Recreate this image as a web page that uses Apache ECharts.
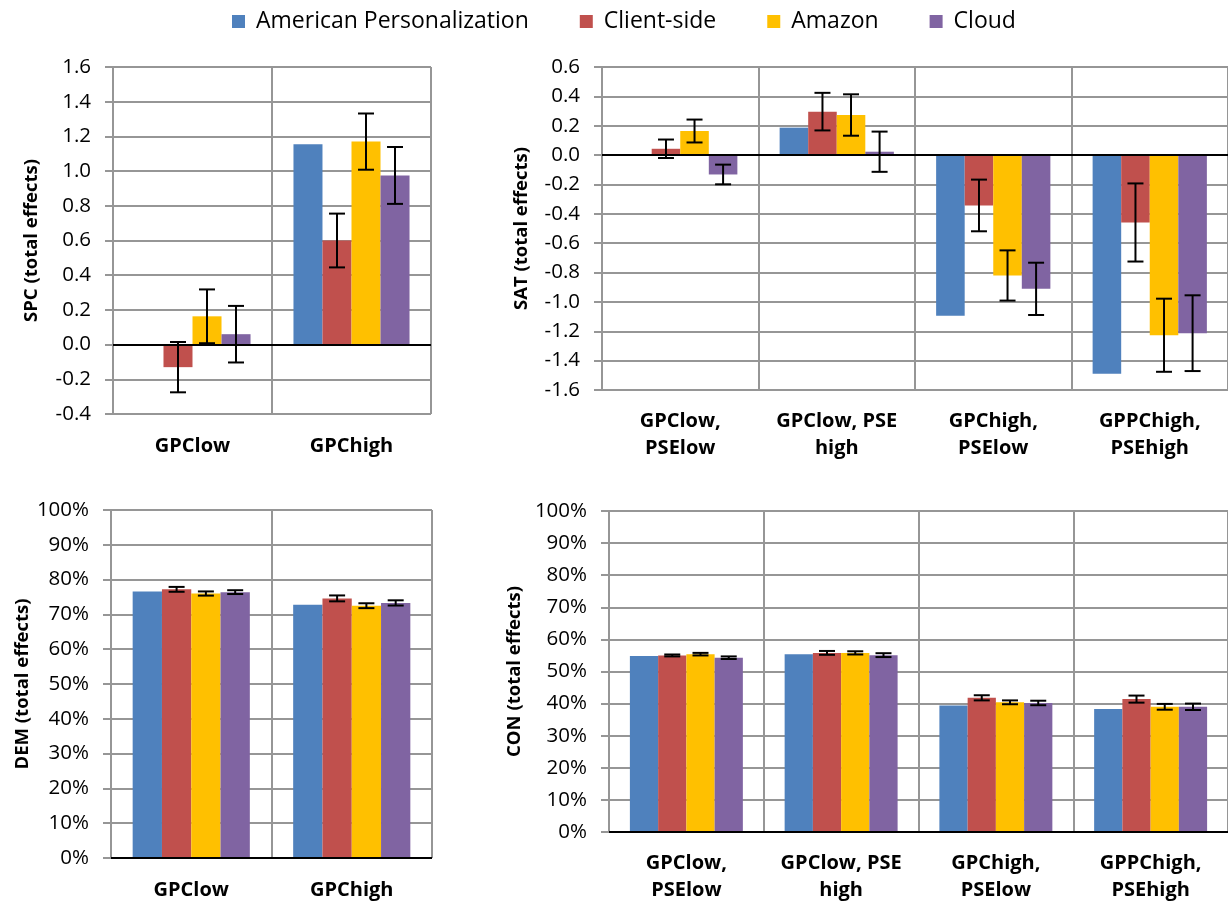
<!DOCTYPE html>
<html>
<head>
<meta charset="utf-8">
<script src="https://cdn.jsdelivr.net/npm/echarts@6/dist/echarts.min.js"></script>
<style>
html,body{margin:0;padding:0;background:#fff;}
#c{width:1228px;height:904px;}
</style>
</head>
<body>
<div id="c"></div>
<script>
// ---------- data ----------
const seriesNames = ['American Personalization', 'Client-side', 'Amazon', 'Cloud'];

// SPC panel (top-left)
const spcCategories = ['GPClow', 'GPChigh'];
const spcAmerican = [0, 1.155];
const spcClient = [-0.13, 0.60];
const spcAmazon = [0.163, 1.17];
const spcCloud = [0.06, 0.975];
const spcErrClient = [0.145, 0.155];
const spcErrAmazon = [0.155, 0.162];
const spcErrCloud = [0.163, 0.164];

// SAT panel (top-right)
const satCategories = ['GPClow,\nPSElow', 'GPClow, PSE\nhigh', 'GPChigh,\nPSElow', 'GPPChigh,\nPSEhigh'];
const satAmerican = [0, 0.187, -1.095, -1.49];
const satClient = [0.043, 0.296, -0.343, -0.459];
const satAmazon = [0.164, 0.273, -0.82, -1.227];
const satCloud = [-0.132, 0.023, -0.911, -1.213];
const satErrClient = [0.063, 0.128, 0.176, 0.266];
const satErrAmazon = [0.078, 0.141, 0.171, 0.249];
const satErrCloud = [0.067, 0.137, 0.178, 0.258];

// DEM panel (bottom-left), percent
const demCategories = ['GPClow', 'GPChigh'];
const demAmerican = [76.6, 72.8];
const demClient = [77.2, 74.6];
const demAmazon = [76.0, 72.5];
const demCloud = [76.4, 73.3];
const demErrClient = [0.7, 0.85];
const demErrAmazon = [0.6, 0.7];
const demErrCloud = [0.55, 0.75];

// CON panel (bottom-right), percent
const conCategories = ['GPClow,\nPSElow', 'GPClow, PSE\nhigh', 'GPChigh,\nPSElow', 'GPPChigh,\nPSEhigh'];
const conAmerican = [54.8, 55.4, 39.4, 38.3];
const conClient = [55.0, 55.8, 41.8, 41.4];
const conAmazon = [55.4, 55.8, 40.4, 39.0];
const conCloud = [54.3, 55.1, 40.2, 39.0];
const conErrClient = [0.3, 0.6, 0.8, 1.1];
const conErrAmazon = [0.4, 0.5, 0.6, 0.9];
const conErrCloud = [0.4, 0.6, 0.7, 1.0];

// ---------- style ----------
const COLORS = ['#4F81BD', '#C0504D', '#FFC000', '#8064A2'];
const FONT = 'Open Sans';
const GRID_COLOR = '#969696';
const GAP = 0.27;

const panels = [
  { cats: spcCategories, vals: [spcAmerican, spcClient, spcAmazon, spcCloud],
    errs: [null, spcErrClient, spcErrAmazon, spcErrCloud],
    grid: { left: 113, width: 318, top: 67, height: 347 },
    y: { min: -0.4, max: 1.6, interval: 0.2, name: 'SPC (total effects)', nameGap: 72, pct: false },
    labelMargin: 19 },
  { cats: satCategories, vals: [satAmerican, satClient, satAmazon, satCloud],
    errs: [null, satErrClient, satErrAmazon, satErrCloud],
    grid: { left: 602, width: 632, top: 67, height: 323 },
    y: { min: -1.6, max: 0.6, interval: 0.2, name: 'SAT (total effects)', nameGap: 71, pct: false },
    labelMargin: 18 },
  { cats: demCategories, vals: [demAmerican, demClient, demAmazon, demCloud],
    errs: [null, demErrClient, demErrAmazon, demErrCloud],
    grid: { left: 111, width: 321, top: 510, height: 348 },
    y: { min: 0, max: 100, interval: 10, name: 'DEM (total effects)', nameGap: 79, pct: true },
    labelMargin: 19 },
  { cats: conCategories, vals: [conAmerican, conClient, conAmazon, conCloud],
    errs: [null, conErrClient, conErrAmazon, conErrCloud],
    grid: { left: 609, width: 625, top: 511, height: 322 },
    y: { min: 0, max: 100, interval: 10, name: 'CON (total effects)', nameGap: 79, pct: true },
    labelMargin: 18 }
];

const grids = [], xAxes = [], yAxes = [], series = [];

panels.forEach((p, gi) => {
  grids.push(Object.assign({ containLabel: false }, p.grid));
  xAxes.push({
    type: 'category', gridIndex: gi, data: p.cats,
    axisLine: { show: false, onZero: false },
    axisTick: { show: false },
    splitLine: { show: true, lineStyle: { color: GRID_COLOR, width: 2 } },
    axisLabel: { fontFamily: FONT, fontWeight: 'bold', fontSize: 20, color: '#000',
                 margin: p.labelMargin, lineHeight: 27, interval: 0 }
  });
  yAxes.push({
    type: 'value', gridIndex: gi, min: p.y.min, max: p.y.max, interval: p.y.interval,
    name: p.y.name, nameLocation: 'middle', nameGap: p.y.nameGap, nameRotate: 90,
    nameTextStyle: { fontFamily: FONT, fontWeight: 'bold', fontSize: 18.5, color: '#000' },
    axisLine: { show: true, lineStyle: { color: GRID_COLOR, width: 2 } },
    axisTick: { show: true, length: 8, lineStyle: { color: GRID_COLOR, width: 2 } },
    splitLine: { show: true, lineStyle: { color: GRID_COLOR, width: 2 } },
    axisLabel: {
      fontFamily: FONT, fontSize: 20.5, color: '#000', margin: 22,
      formatter: p.y.pct ? (v => Math.round(v) + '%') : (v => (Math.abs(v) < 1e-9 ? 0 : v).toFixed(1))
    }
  });
  p.vals.forEach((arr, k) => {
    const s = {
      type: 'bar', name: seriesNames[k], xAxisIndex: gi, yAxisIndex: gi,
      data: arr, barGap: '0%', barCategoryGap: (GAP * 100) + '%',
      itemStyle: { color: COLORS[k] }, silent: true, z: 2
    };
    if (k === 0) {
      s.markLine = {
        silent: true, symbol: ['none', 'none'], label: { show: false },
        lineStyle: { color: '#000', width: 2, type: 'solid' },
        data: [{ yAxis: 0 }], z: 3
      };
    }
    series.push(s);
  });
  p.errs.forEach((err, k) => {
    if (!err) return;
    const vals = p.vals[k];
    series.push({
      type: 'custom', xAxisIndex: gi, yAxisIndex: gi, silent: true, z: 5,
      encode: { x: 0, y: 1 },
      data: vals.map((v, i) => [i, v, err[i]]),
      renderItem: (params, api) => {
        const ci = api.value(0), v = api.value(1), e = api.value(2);
        const c = api.coord([ci, v]);
        const catW = api.size([1, 0])[0];
        const barW = catW * (1 - GAP) / 4;
        const x = c[0] + (k - 1.5) * barW;
        const yt = api.coord([ci, v + e])[1];
        const yb = api.coord([ci, v - e])[1];
        const hw = 8;
        const st = { stroke: '#000', lineWidth: 2 };
        return { type: 'group', children: [
          { type: 'line', shape: { x1: x, y1: yt, x2: x, y2: yb }, style: st },
          { type: 'line', shape: { x1: x - hw, y1: yt, x2: x + hw, y2: yt }, style: st },
          { type: 'line', shape: { x1: x - hw, y1: yb, x2: x + hw, y2: yb }, style: st }
        ] };
      }
    });
  });
});

const chart = echarts.init(document.getElementById('c'), null, { renderer: 'canvas' });
chart.setOption({
  animation: false,
  backgroundColor: '#fff',
  legend: {
    data: seriesNames, left: 232, top: 10, padding: 0, itemWidth: 13, itemHeight: 13, itemGap: 51,
    icon: 'rect',
    textStyle: { fontFamily: FONT, fontSize: 23, color: '#000', padding: [0, 0, 0, 6] }
  },
  grid: grids, xAxis: xAxes, yAxis: yAxes, series: series
});
</script>
</body>
</html>
